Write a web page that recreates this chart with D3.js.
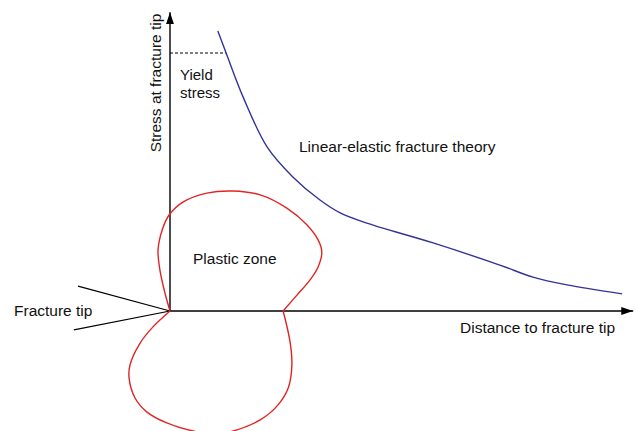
<!DOCTYPE html>
<html>
<head>
<meta charset="utf-8">
<script src="https://cdn.jsdelivr.net/npm/d3@7"></script>
<style>
  body { margin: 0; background: #fff; }
  svg text { font-family: 'Liberation Sans', Arial, sans-serif; font-size: 15.5px; fill: #111; }
</style>
</head>
<body>
<script>
// distance (x) and stress (y) in arbitrary units, origin at the fracture tip
const elasticX = [1.04, 1.22, 1.59, 2.11, 2.67, 3.26, 3.7, 4.28, 5.72, 7.17, 7.89, 8.63, 9.83]
const elasticY = [9.33, 8.6, 7.13, 5.47, 4.47, 3.7, 3.27, 2.93, 2.27, 1.53, 1.13, 0.87, 0.57]

const yieldStress = 8.6

// plastic zone outline, two lobes from the tip to the far edge on the x axis
const upperLobeX = [0, -0.11, -0.22, -0.26, -0.17, -0.02, 0.28, 0.8, 1.37, 1.96, 2.54, 2.98, 3.22, 3.3, 3.22, 3.04, 2.76, 2.46]
const upperLobeY = [0, 0.6, 1.37, 2.03, 2.7, 3.2, 3.63, 3.93, 4.0, 3.87, 3.43, 2.87, 2.37, 1.97, 1.47, 1.03, 0.53, 0]
const lowerLobeX = [0, -0.37, -0.65, -0.87, -0.89, -0.76, -0.5, -0.07, 0.59, 0.96, 1.3, 1.96, 2.35, 2.57, 2.65, 2.61, 2.46]
const lowerLobeY = [0, -0.53, -1.07, -1.8, -2.23, -2.9, -3.37, -3.73, -4.03, -4.1, -4.03, -3.63, -3.13, -2.57, -1.8, -1.03, 0]

// crack flanks meeting at the tip
const crackX = [-2.0, 0, -2.09]
const crackY = [0.83, 0, -0.63]

const xLabel = 'Distance to fracture tip'
const yLabel = 'Stress at fracture tip'
const yieldLabel = ['Yield', 'stress']

const w = 636
const h = 431

const x = d3.scaleLinear().domain([0, 10]).range([170, 630])
const y = d3.scaleLinear().domain([0, 10]).range([311, 11])

const zip = (xs, ys) => xs.map((v, i) => [v, ys[i]])

const svg = d3.select('body').append('svg').attr('width', w).attr('height', h)

svg.append('defs').append('marker')
  .attr('id', 'arrow')
  .attr('viewBox', '0 0 12 8')
  .attr('refX', 12)
  .attr('refY', 4)
  .attr('markerWidth', 12)
  .attr('markerHeight', 8)
  .attr('markerUnits', 'userSpaceOnUse')
  .attr('orient', 'auto')
  .append('path')
  .attr('d', 'M0,0L12,4L0,8Z')
  .attr('fill', '#000')

const line = d3.line().x((d) => x(d[0])).y((d) => y(d[1]))

// axes
svg.append('path')
  .attr('d', line([[0, 0], [10.07, 0]]))
  .attr('stroke', '#000').attr('stroke-width', 1.4).attr('fill', 'none')
  .attr('marker-end', 'url(#arrow)')
svg.append('path')
  .attr('d', line([[0, 0], [0, 9.96]]))
  .attr('stroke', '#000').attr('stroke-width', 1.4).attr('fill', 'none')
  .attr('marker-end', 'url(#arrow)')

// crack
svg.append('path')
  .attr('d', line(zip(crackX, crackY)))
  .attr('stroke', '#000').attr('stroke-width', 1.2).attr('fill', 'none')

// yield stress level
svg.append('path')
  .attr('d', line([[0, yieldStress], [1.22, yieldStress]]))
  .attr('stroke', '#000').attr('stroke-width', 1).attr('stroke-dasharray', '3,2')
  .attr('fill', 'none')

// plastic zone
const smooth = d3.line().x((d) => x(d[0])).y((d) => y(d[1])).curve(d3.curveCatmullRom.alpha(0.5))
svg.append('path')
  .attr('d', smooth(zip(upperLobeX, upperLobeY)))
  .attr('stroke', '#e02424').attr('stroke-width', 1.4).attr('fill', 'none')
svg.append('path')
  .attr('d', smooth(zip(lowerLobeX, lowerLobeY)))
  .attr('stroke', '#e02424').attr('stroke-width', 1.4).attr('fill', 'none')

// linear-elastic stress
svg.append('path')
  .attr('d', smooth(zip(elasticX, elasticY)))
  .attr('stroke', '#33339a').attr('stroke-width', 1.4).attr('fill', 'none')

// labels
svg.append('text').attr('x', 460).attr('y', 333).text(xLabel)
svg.append('text')
  .attr('transform', 'translate(161,83) rotate(-90)')
  .attr('text-anchor', 'middle')
  .text(yLabel)
svg.append('text').attr('x', 14).attr('y', 316).text('Fracture tip')
svg.append('text').attr('x', 193).attr('y', 264).text('Plastic zone')
svg.append('text').attr('x', 299).attr('y', 152).text('Linear-elastic fracture theory')
svg.selectAll('text.yield')
  .data(yieldLabel)
  .join('text')
  .attr('class', 'yield')
  .attr('x', 180)
  .attr('y', (d, i) => 80 + i * 17.5)
  .style('font-size', '15px')
  .text((d) => d)
</script>
</body>
</html>
